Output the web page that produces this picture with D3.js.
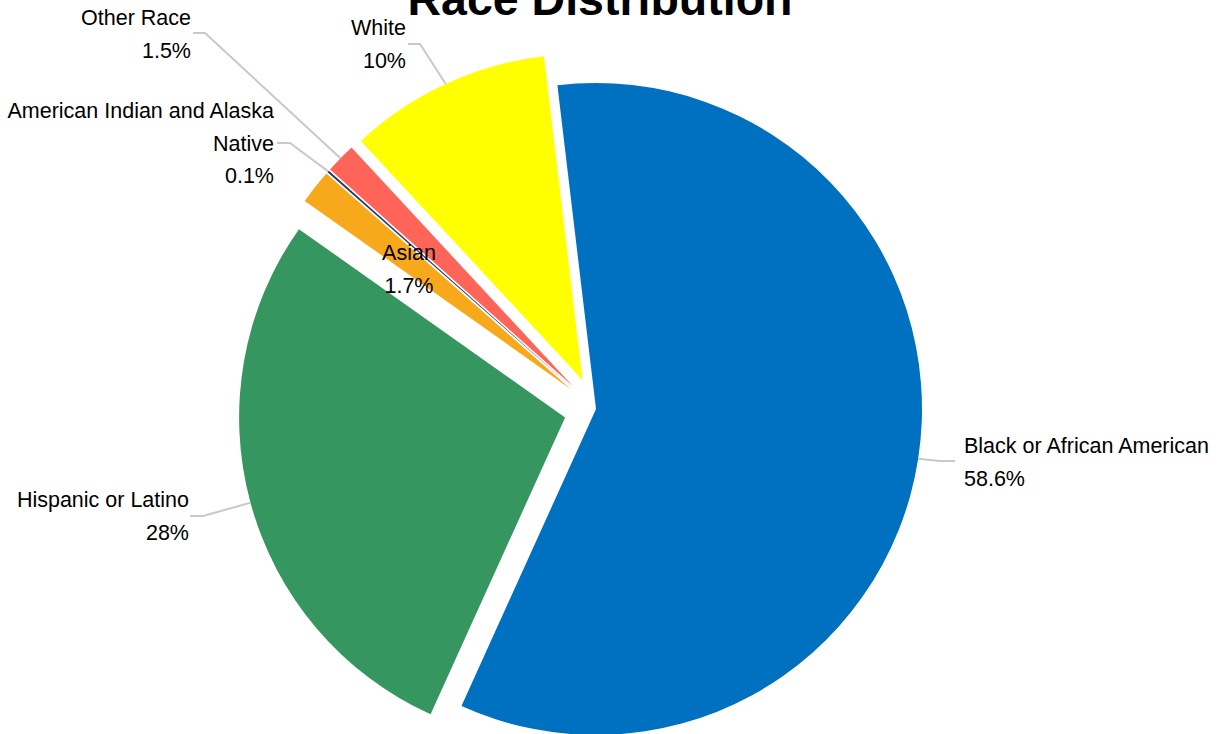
<!DOCTYPE html>
<html>
<head>
<meta charset="utf-8">
<script src="https://cdn.jsdelivr.net/npm/d3@7"></script>
<style>
  html, body { margin: 0; padding: 0; background: #ffffff; }
  svg { display: block; }
  text { font-family: "Liberation Sans", Arial, sans-serif; fill: #000; }
</style>
</head>
<body>
<svg id="chart" width="1222" height="734"></svg>
<script>
// ---- data ----
const categories = ["Black or African American", "Hispanic or Latino", "Asian", "American Indian and Alaska Native", "Other Race", "White"];
const values = [58.6, 28, 1.7, 0.1, 1.5, 10];
const valueLabels = ["58.6%", "28%", "1.7%", "0.1%", "1.5%", "10%"];
const title = "Race Distribution";

// ---- style / layout ----
const colors = ["#0070c0", "#36965f", "#f7a81b", "#1f3b66", "#ff6459", "#ffff00"];
const explode = [0, 32, 32, 32, 32, 32];
const cx = 596, cy = 409, radius = 326;
const startDeg = -6.8;

// label layout (text anchor point, first-line baseline, wrapped lines, leader elbow)
const labelLayout = {
  "Black or African American": { x: 964, y: 453, anchor: "start", lines: ["Black or African American"], elbow: [940, 461], end: [955, 461] },
  "Hispanic or Latino": { x: 189, y: 507, anchor: "end", lines: ["Hispanic or Latino"], elbow: [203, 516], end: [190, 516] },
  "Asian": { x: 409, y: 260, anchor: "middle", lines: ["Asian"], elbow: null, end: null },
  "American Indian and Alaska Native": { x: 274, y: 118, anchor: "end", lines: ["American Indian and Alaska", "Native"], elbow: [290, 143], end: [277, 143] },
  "Other Race": { x: 191, y: 25, anchor: "end", lines: ["Other Race"], elbow: [205, 33], end: [193, 33] },
  "White": { x: 406, y: 35, anchor: "end", lines: ["White"], elbow: [420, 44], end: [408, 44] }
};
const lineGap = 32.5;
const fontSize = 21.5;

const svg = d3.select("#chart");

const rad = d => d * Math.PI / 180;
const pie = d3.pie().sort(null).value(d => d.value)
  .startAngle(rad(startDeg)).endAngle(rad(startDeg) + 2 * Math.PI);

const data = categories.map((c, i) => ({ name: c, value: values[i], label: valueLabels[i], color: colors[i], explode: explode[i] }));
const arcs = pie(data);

const arc = d3.arc().innerRadius(0).outerRadius(radius);

const g = svg.append("g").attr("transform", `translate(${cx},${cy})`);

function offsetOf(d) {
  const mid = (d.startAngle + d.endAngle) / 2;
  return [Math.sin(mid) * d.data.explode, -Math.cos(mid) * d.data.explode];
}

g.selectAll("path.slice")
  .data(arcs)
  .join("path")
  .attr("class", "slice")
  .attr("d", arc)
  .attr("fill", d => d.data.color)
  .attr("transform", d => { const o = offsetOf(d); return `translate(${o[0]},${o[1]})`; });

// leader lines
const leaders = svg.append("g");
arcs.forEach(d => {
  const L = labelLayout[d.data.name];
  if (!L || !L.elbow) return;
  const mid = (d.startAngle + d.endAngle) / 2;
  const rr = radius + d.data.explode;
  const p0 = [cx + Math.sin(mid) * rr, cy - Math.cos(mid) * rr];
  leaders.append("path")
    .attr("d", d3.line()([p0, L.elbow, L.end]))
    .attr("fill", "none")
    .attr("stroke", "#c9c9c9")
    .attr("stroke-width", 2);
});

// labels
const labels = svg.append("g");
arcs.forEach(d => {
  const L = labelLayout[d.data.name];
  const lines = L.lines.concat([d.data.label]);
  const t = labels.append("text")
    .attr("x", L.x)
    .attr("y", L.y)
    .attr("text-anchor", L.anchor)
    .style("font-size", fontSize + "px");
  lines.forEach((ln, i) => {
    t.append("tspan").attr("x", L.x).attr("dy", i === 0 ? 0 : lineGap).text(ln);
  });
});

// title
svg.append("text")
  .attr("x", 600)
  .attr("y", 15)
  .attr("text-anchor", "middle")
  .style("font-size", "46.5px")
  .style("font-weight", "bold")
  .text(title);
</script>
</body>
</html>
